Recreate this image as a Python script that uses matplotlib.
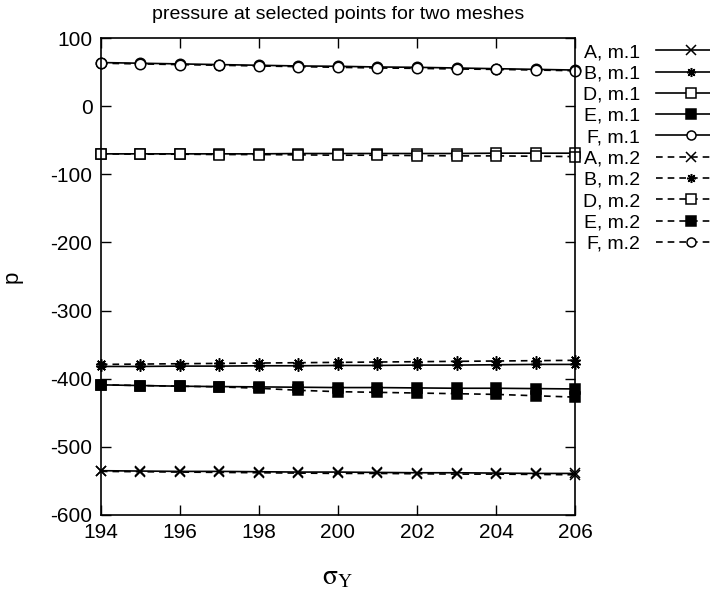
import matplotlib
matplotlib.use('Agg')
import matplotlib.pyplot as plt

plt.rcParams['font.family'] = ['Liberation Sans', 'DejaVu Sans']
plt.rcParams['mathtext.fontset'] = 'stix'
plt.rcParams['axes.unicode_minus'] = False

# sigma_Y values on the x axis
sigma_y = [194, 195, 196, 197, 198, 199, 200, 201, 202, 203, 204, 205, 206]

# pressure, mesh 1
A_m1 = [-535, -535.5, -536, -536, -536.5, -537, -537, -537.5, -538, -538, -538.5, -539, -539]
B_m1 = [-382, -382, -381.5, -381.5, -381, -381, -380.5, -380.5, -380, -380, -379.5, -379, -379]
D_m1 = [-70, -70, -70, -70, -70, -69.5, -69.5, -69.5, -69.5, -69.5, -69, -69, -69]
E_m1 = [-409, -410, -411, -411.5, -412, -412.5, -413, -413, -413.5, -414, -414, -414.5, -415]
F_m1 = [64, 63, 62, 61, 60, 59, 58.5, 57.5, 57, 56, 55, 54, 53]

# mesh 2
A_m2 = [-536, -536.5, -537, -537.5, -538, -538.5, -539, -539, -539.5, -540, -540, -540.5, -541]
B_m2 = [-379, -378.5, -378, -377.5, -377, -376.5, -376, -375.5, -375, -374.5, -374, -373.5, -373]
D_m2 = [-70, -70.5, -70.5, -71, -71, -71.5, -72, -72, -72.5, -73, -73, -73.5, -74]
E_m2 = [-409, -410, -411, -412, -414, -417, -419, -420, -421, -422, -423, -425, -427]
F_m2 = [63, 62, 61, 60, 59, 58, 57, 56, 55.5, 54.5, 54, 53, 52]

labels = ['A, m.1', 'B, m.1', 'D, m.1', 'E, m.1', 'F, m.1',
          'A, m.2', 'B, m.2', 'D, m.2', 'E, m.2', 'F, m.2']

fig = plt.figure(figsize=(7.1, 5.94), dpi=100)
ax = fig.add_axes([0.142, 0.133, 0.668, 0.803])

series = [A_m1, B_m1, D_m1, E_m1, F_m1, A_m2, B_m2, D_m2, E_m2, F_m2]
markers = ['x', (8, 2, 0), 's', 's', 'o'] * 2
faces = ['k', 'k', 'white', 'k', 'white'] * 2
for i, vals in enumerate(series):
    style = '-' if i < 5 else (0, (4, 3))
    ax.plot(sigma_y, vals, color='k', linestyle=style, lw=1.2,
            marker=markers[i], markersize=7.5, markerfacecolor=faces[i],
            markeredgecolor='k', markeredgewidth=1.1, label=labels[i], clip_on=False)

ax.set_xlim(194, 206)
ax.set_ylim(-600, 100)
ax.set_xticks([194, 196, 198, 200, 202, 204, 206])
ax.set_yticks([100, 0, -100, -200, -300, -400, -500, -600])
ax.tick_params(direction='in', top=True, right=True, length=7, width=1,
               labelsize=15, pad=6)
for s in ax.spines.values():
    s.set_linewidth(1.2)

ax.set_title('pressure at selected points for two meshes', fontsize=14, pad=14)
ax.set_ylabel('p', fontsize=16, labelpad=20)
ax.set_xlabel(r'$\mathrm{\sigma}_{\mathrm{Y}}$', fontsize=20, labelpad=16)

leg = ax.legend(loc='upper left', bbox_to_anchor=(1.0, 1.005), frameon=False,
                markerfirst=False, fontsize=14, handlelength=3.6, handletextpad=0.8,
                labelspacing=0.19, borderaxespad=0.0)
for h in leg.legend_handles:
    h.set_markersize(6.5)

fig.savefig('out.png', dpi=100)
